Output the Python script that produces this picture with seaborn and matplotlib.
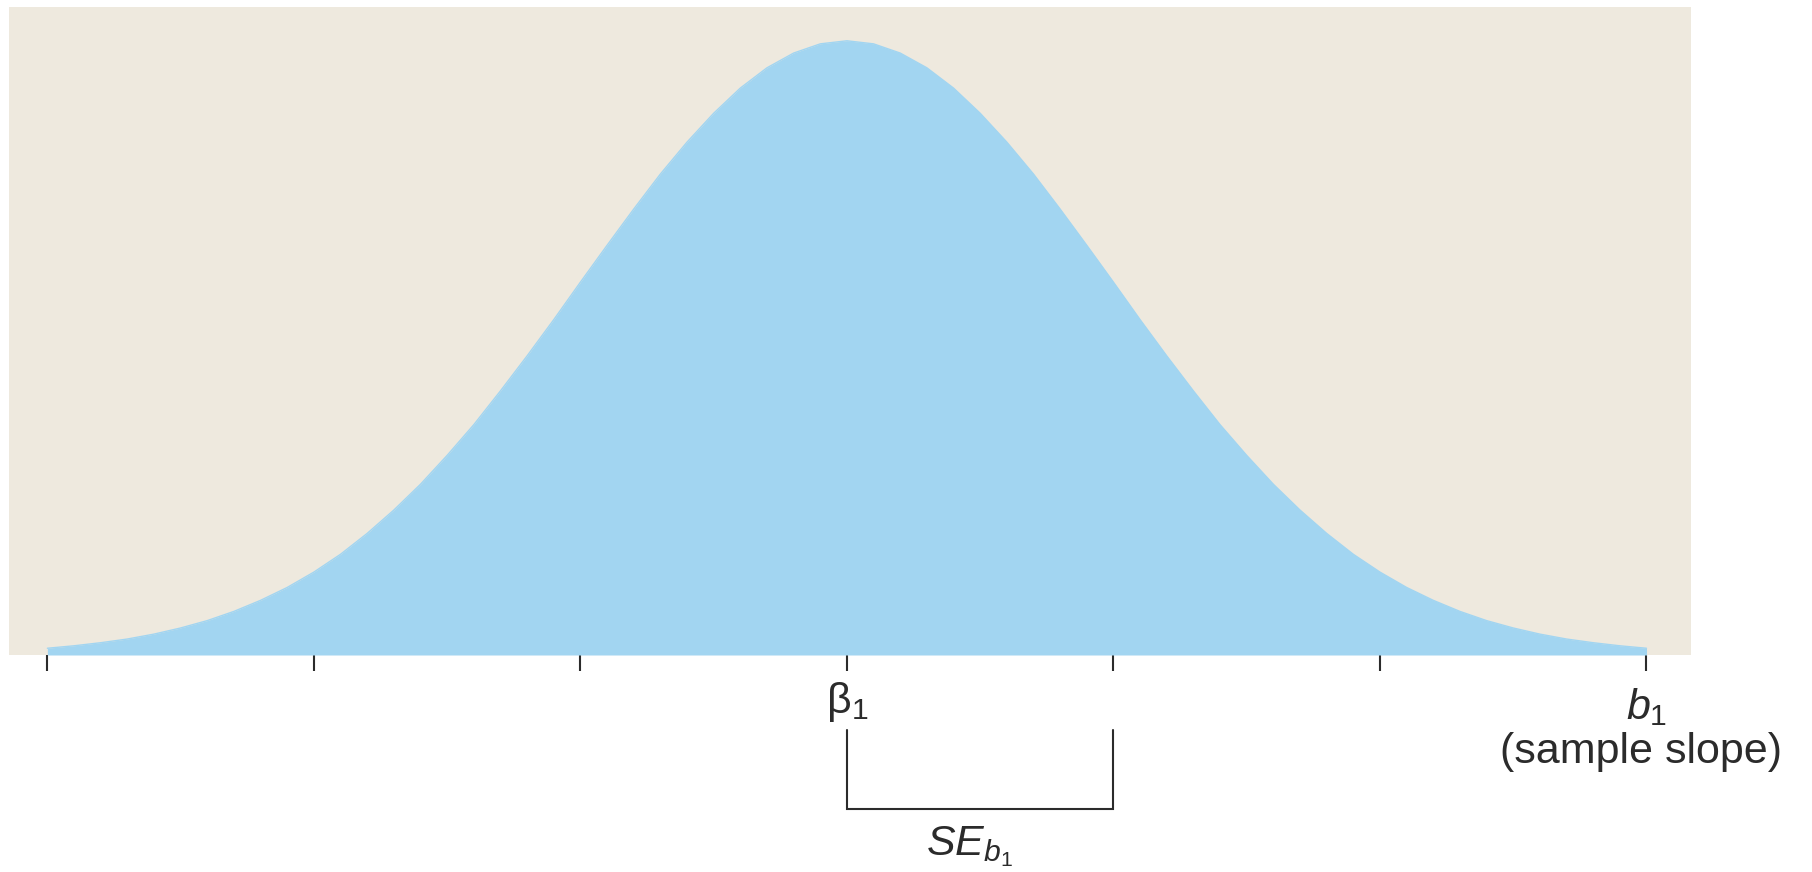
import numpy as np
import pandas as pd
import matplotlib.pyplot as plt
import matplotlib.transforms as mtransforms
import seaborn as sns

# sampling distribution of the slope: position in SE units and height relative to the peak
slope_se = [-3.0, -2.9, -2.8, -2.7, -2.6, -2.5, -2.4, -2.3, -2.2, -2.1,
            -2.0, -1.9, -1.8, -1.7, -1.6, -1.5, -1.4, -1.3, -1.2, -1.1,
            -1.0, -0.9, -0.8, -0.7, -0.6, -0.5, -0.4, -0.3, -0.2, -0.1,
            0.0, 0.1, 0.2, 0.3, 0.4, 0.5, 0.6, 0.7, 0.8, 0.9,
            1.0, 1.1, 1.2, 1.3, 1.4, 1.5, 1.6, 1.7, 1.8, 1.9,
            2.0, 2.1, 2.2, 2.3, 2.4, 2.5, 2.6, 2.7, 2.8, 2.9, 3.0]
height = [0.011, 0.015, 0.020, 0.026, 0.034, 0.044, 0.056, 0.071, 0.089, 0.110,
          0.135, 0.164, 0.198, 0.236, 0.278, 0.325, 0.375, 0.430, 0.487, 0.546,
          0.607, 0.667, 0.726, 0.783, 0.835, 0.882, 0.923, 0.956, 0.980, 0.995,
          1.000, 0.995, 0.980, 0.956, 0.923, 0.882, 0.835, 0.783, 0.726, 0.667,
          0.607, 0.546, 0.487, 0.430, 0.375, 0.325, 0.278, 0.236, 0.198, 0.164,
          0.135, 0.110, 0.089, 0.071, 0.056, 0.044, 0.034, 0.026, 0.020, 0.015, 0.011]
tick_pos = [-3, -2, -1, 0, 1, 2, 3]

BLUE = '#A2D5F1'
BEIGE = '#EEE9DE'
INK = '#2b2b2b'

sns.set_style('white')
plt.rcParams['font.family'] = ['Liberation Sans', 'DejaVu Sans']
plt.rcParams['mathtext.fontset'] = 'custom'
plt.rcParams['mathtext.rm'] = 'Liberation Sans'
plt.rcParams['mathtext.it'] = 'Liberation Sans:italic'

df = pd.DataFrame({'b1': slope_se, 'density': height})

W, H = 1812, 872
fig = plt.figure(figsize=(W / 100, H / 100), dpi=100)
ax = fig.add_axes([9 / W, (H - 655) / H, (1691 - 9) / W, (655 - 7) / H])
ax.set_facecolor(BEIGE)

sns.lineplot(data=df, x='b1', y='density', color=BLUE, linewidth=1, ax=ax)
ax.fill_between(df['b1'], 0, df['density'], color=BLUE, linewidth=0)

ax.set_xlim(-3.144, 3.167)
ax.set_ylim(0, 1.055)
for s in ax.spines.values():
    s.set_visible(False)
ax.set_xticks(tick_pos)
ax.set_yticks([])
ax.tick_params(axis='x', direction='out', length=11.5, width=1.5, color=INK,
               labelbottom=False, bottom=True)
ax.set_xlabel('')
ax.set_ylabel('')

# x in data units, y in figure pixels from the top
tr = mtransforms.blended_transform_factory(ax.transData, fig.transFigure)
def fy(py):
    return 1 - py / H

ax.text(0, fy(680), 'β$_1$', transform=tr, ha='center', va='top', fontsize=31, color=INK)
ax.text(3, fy(686), '$b_1$', transform=tr, ha='center', va='top', fontsize=31, color=INK)
ax.text(2.98, fy(732), '(sample slope)', transform=tr, ha='center', va='top',
        fontsize=31, color=INK)

# bracket marking one standard error
ax.plot([0, 0, 1, 1], [fy(730), fy(809), fy(809), fy(730)], transform=tr,
        color=INK, linewidth=1.5, clip_on=False, solid_joinstyle='miter')
ax.text(0.46, fy(824), '$SE_{b_1}$', transform=tr, ha='center', va='top', fontsize=31, color=INK)

fig.savefig('out.png', dpi=100, facecolor='white')
